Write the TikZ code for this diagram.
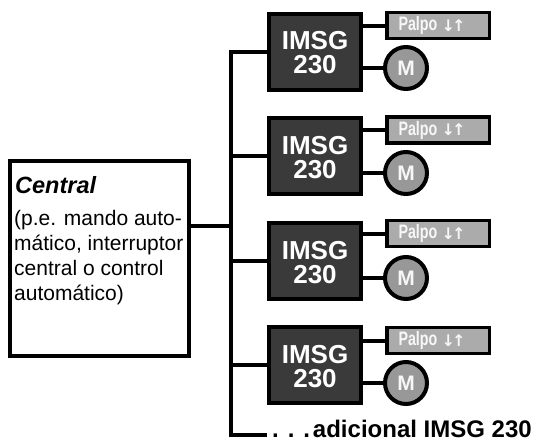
\documentclass[tikz,border=0pt]{standalone}
\usepackage{fontspec}
\setmainfont{Liberation Sans}
\newfontfamily\arrowfont{DejaVu Sans}
\definecolor{boxdark}{HTML}{3A3A3A}
\definecolor{keygray}{HTML}{ABABAB}
\definecolor{motorgray}{HTML}{989898}
\tikzset{
  wire/.style={line width=4pt,black},
  imsg/.style={draw=black,line width=4pt,fill=boxdark,text=white,outer sep=0pt,minimum width=92pt,minimum height=76pt,inner sep=0pt,align=center,font=\bfseries\fontsize{26}{24}\selectfont},
  palpo/.style={draw=black,line width=3.5pt,fill=keygray,text=white!90!keygray,outer sep=0pt,minimum width=102.5pt,minimum height=26pt,inner sep=0pt,font=\bfseries\fontsize{15}{15}\selectfont},
  motor/.style={circle,draw=black,line width=4pt,fill=motorgray,text=white!92!motorgray,outer sep=0pt,minimum size=42pt,inner sep=0pt,font=\bfseries\fontsize{21}{21}\selectfont},
  central/.style={fill=white,outer sep=0pt,minimum width=179pt,minimum height=195pt,inner sep=0pt},
  note/.style={anchor=base west,inner sep=0pt,font=\fontsize{21}{24}\selectfont},
}
\newcommand{\palpotext}{\makebox[79pt][l]{\makebox[67pt][s]{\scalebox{0.95}[1.3]{Palpo}\hfill\raisebox{-0.5pt}{\arrowfont\fontsize{16}{16}\selectfont\hspace{-1pt}↓\hspace{-3pt}↑}}}}
\begin{document}
\begin{tikzpicture}[x=1pt,y=-1pt]
\useasboundingbox (0,0) rectangle (536,440);
\fill[white] (0,0) rectangle (536,440);
\node[central] (c) at (99.5,258.5) {};
\node[note,font=\bfseries\itshape\fontsize{23.5}{24}\selectfont] (t0) at (15,193) {Central};
\node[note] (t1) at (14,225) {(p.e. mando auto-};
\node[note] (t2) at (14,250) {mático, interruptor\hspace{1pt}};
\node[note] (t3) at (14,275) {central o control};
\node[note] (t4) at (14,300) {automático)};
\draw[line width=4pt] (c.south west) rectangle (c.north east);
\coordinate (bus) at (230.5,226);
\coordinate (bustop) at (230.5,51.5);
\coordinate (busbot) at (230.5,435);
\coordinate (busend) at (265,435);
\draw[wire] (c.east |- bus) -- (bus);
\draw[wire,line cap=rect] (bustop) -- (busbot) -- (busend);
\foreach \i/\by/\py/\my in {1/51.5/25.5/68,2/156/130/173,3/261/233.5/278,4/365/340.5/383}{
  \node[imsg] (b\i) at (315,\by) {\rule{0pt}{21pt}IMSG\\230};
  \node[palpo] (p\i) at (438,\py) {\palpotext};
  \node[motor] (m\i) at (406,\my) {M};
  \draw[wire] (b\i.east |- 0,\py) -- (p\i.west |- 0,\py);
  \draw[wire] (b\i.east |- m\i) -- (m\i.west);
  \draw[wire] (bus |- b\i) -- (b\i.west);
}
\node[anchor=base west,inner sep=0pt,font=\bfseries\fontsize{24}{24}\selectfont] (more) at (272,437) {. . .\hspace{3pt}adicional IMSG 230};
\end{tikzpicture}
\end{document}
